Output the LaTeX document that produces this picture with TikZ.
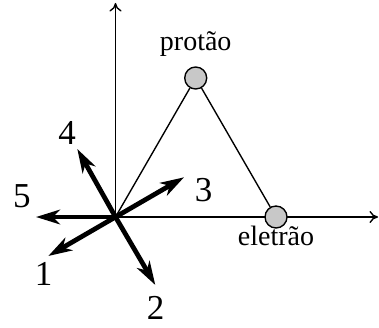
\documentclass[tikz,border=0pt]{standalone}
\usepackage{fontspec}
\setmainfont{Liberation Serif}
\usepackage{xcolor}
\usepackage{tikz}
\usetikzlibrary{arrows.meta}
\definecolor{ballgrey}{HTML}{C8C8C8}

\begin{document}
\begin{tikzpicture}[x=0.4pt,y=0.4pt,
  axis/.style={line width=0.55pt,-{To[length=3.4pt,width=4.8pt]}},
  link/.style={line width=0.55pt},
  particle/.style={circle,draw,line width=0.55pt,fill=ballgrey,minimum size=8.8pt,inner sep=0pt},
  vec/.style={line width=1.9pt,-{Stealth[length=9.5pt,width=5.8pt,inset=2.8pt]}},
  num/.style={font=\fontsize{14}{14}\selectfont,inner sep=0pt},
  tag/.style={font=\fontsize{11.2}{12}\selectfont,inner sep=0pt}
]
\useasboundingbox (0,0) rectangle (379,327);
\coordinate (o) at (115.5,110);
\coordinate (xend) at (378,110);
\coordinate (yend) at (115.5,324);
\draw[axis] (o) -- (xend);
\draw[axis] (o) -- (yend);

\node[particle] (prot) at (195.7,249) {};
\node[particle] (elec) at (276,110) {};
\node[tag] (protlab) at (195.7,282.5) {protão};
\node[tag] (eleclab) at (276,91.5) {eletrão};
\draw[link] (o) -- (prot);
\draw[link] (prot) -- (elec);

\coordinate (v1) at (48.3,71);
\coordinate (v2) at (155.3,42);
\coordinate (v3) at (184,149.7);
\coordinate (v4) at (77.3,178);
\coordinate (v5) at (36,110);
\foreach \i in {1,...,5} \draw[vec] (o) -- (v\i);

\node[num] (n1) at (43.5,53.5) {1};
\node[num] (n2) at (155.5,19) {2};
\node[num] (n3) at (203.5,136.5) {3};
\node[num] (n4) at (67,194) {4};
\node[num] (n5) at (22,131) {5};
\end{tikzpicture}
\end{document}
